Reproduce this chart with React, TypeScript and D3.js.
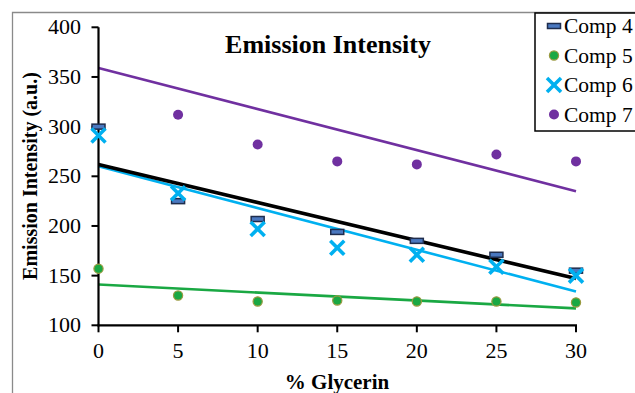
import React from "react";
import * as d3 from "d3";

const xValues = [0, 5, 10, 15, 20, 25, 30];
const comp4 = [300, 225, 207, 194, 185, 171, 155];
const comp5 = [157, 130, 124, 125, 124, 124, 123];
const comp6 = [291, 233, 197, 178, 171, 159, 150];
const comp7: (number | null)[] = [null, 312, 282, 265, 262, 272, 265];
// trendline endpoints at x = 0 and x = 30
const trend4 = [262, 147];
const trend5 = [141, 117];
const trend6 = [260, 134];
const trend7 = [359, 235];
const xTicks = [0, 5, 10, 15, 20, 25, 30];
const yTicks = [100, 150, 200, 250, 300, 350, 400];
const seriesNames = ["Comp 4", "Comp 5", "Comp 6", "Comp 7"];

const C4 = "#1f2d4d";
const C4FILL = "#4a78c0";
const C5 = "#1aa843";
const C5S = "#9a9a40";
const C6 = "#00b0f0";
const C7 = "#7030a0";
const FONT = "'Liberation Serif', 'Times New Roman', serif";

export default function App() {
  const x = d3.scaleLinear().domain([0, 30]).range([98.5, 576]);
  const y = d3.scaleLinear().domain([100, 400]).range([325.3, 27.3]);
  const line = d3
    .line<[number, number]>()
    .x((d) => x(d[0]))
    .y((d) => y(d[1]));

  const trendPath = (t: number[]) =>
    line([
      [0, t[0]],
      [30, t[1]],
    ]) as string;

  const dash = (cx: number, cy: number, key: string) => (
    <rect key={key} x={cx - 6.5} y={cy - 2.5} width={13} height={5} fill={C4FILL} stroke={C4} strokeWidth={1.5} />
  );
  const dot5 = (cx: number, cy: number, key: string) => (
    <circle key={key} cx={cx} cy={cy} r={4.6} fill={C5} stroke={C5S} strokeWidth={1.2} />
  );
  const cross = (cx: number, cy: number, key: string) => (
    <g key={key} stroke={C6} strokeWidth={3.6} strokeLinecap="butt">
      <line x1={cx - 7} y1={cy - 7} x2={cx + 7} y2={cy + 7} />
      <line x1={cx - 7} y1={cy + 7} x2={cx + 7} y2={cy - 7} />
    </g>
  );
  const dot7 = (cx: number, cy: number, key: string) => (
    <circle key={key} cx={cx} cy={cy} r={5} fill={C7} />
  );

  const legendY = [33, 62.5, 92, 121.5];
  const legendMarkers = [dash, dot5, cross, dot7];

  return (
    <svg
      width={635}
      height={393}
      style={{ position: "absolute", left: 0, top: 0, background: "#fff" }}
      fontFamily={FONT}
    >
      <rect x={0} y={0} width={635} height={393} fill="#fff" />
      {/* outer frame */}
      <path d="M12.5,400 L12.5,12.5 L640,12.5" fill="none" stroke="#8a8a8a" strokeWidth={1.3} />

      {/* title */}
      <text x={328} y={53} textAnchor="middle" fontSize={26} fontWeight="bold">
        Emission Intensity
      </text>

      {/* trendlines */}
      <path d={trendPath(trend7)} stroke={C7} strokeWidth={2.6} fill="none" />
      <path d={trendPath(trend5)} stroke={C5} strokeWidth={2.6} fill="none" />
      <path d={trendPath(trend6)} stroke={C6} strokeWidth={2.6} fill="none" />
      <path d={trendPath(trend4)} stroke="#000" strokeWidth={3.6} fill="none" />

      {/* axes */}
      <line x1={x(0)} y1={y(400)} x2={x(0)} y2={y(100) + 1} stroke="#000" strokeWidth={2.2} />
      <line x1={x(0) - 1} y1={y(100)} x2={x(30) + 1} y2={y(100)} stroke="#000" strokeWidth={2.2} />
      {yTicks.map((t) => (
        <g key={"yt" + t}>
          <line x1={x(0) - 7} x2={x(0)} y1={y(t)} y2={y(t)} stroke="#000" strokeWidth={2} />
          <text x={81} y={y(t) + 7} textAnchor="end" fontSize={22}>
            {t}
          </text>
        </g>
      ))}
      {xTicks.map((t) => (
        <g key={"xt" + t}>
          <line x1={x(t)} x2={x(t)} y1={y(100)} y2={y(100) + 7} stroke="#000" strokeWidth={2} />
          <text x={x(t)} y={358} textAnchor="middle" fontSize={22}>
            {t}
          </text>
        </g>
      ))}

      {/* axis titles */}
      <text x={337} y={389} textAnchor="middle" fontSize={21} fontWeight="bold">
        % Glycerin
      </text>
      <text
        transform={`translate(37,${176}) rotate(-90)`}
        textAnchor="middle"
        fontSize={20}
        fontWeight="bold"
      >
        Emission Intensity (a.u.)
      </text>

      {/* markers */}
      {comp7.map((v, i) => (v == null ? null : dot7(x(xValues[i]), y(v), "p7" + i)))}
      {comp5.map((v, i) => dot5(x(xValues[i]), y(v), "p5" + i))}
      {comp4.map((v, i) => dash(x(xValues[i]), y(v), "p4" + i))}
      {comp6.map((v, i) => cross(x(xValues[i]), y(v), "p6" + i))}

      {/* legend */}
      <rect x={535} y={13} width={110} height={118} fill="#fff" stroke="#000" strokeWidth={1.5} />
      {seriesNames.map((name, i) => (
        <g key={name}>
          {legendMarkers[i](554, legendY[i] - 7, "lm" + i)}
          <text x={564} y={legendY[i]} fontSize={21.5}>
            {name}
          </text>
        </g>
      ))}
    </svg>
  );
}
